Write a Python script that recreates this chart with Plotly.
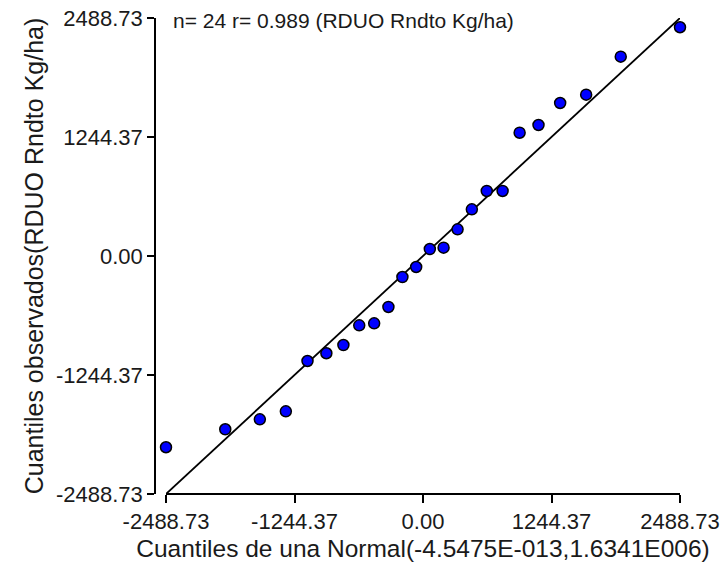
import plotly.graph_objects as go

# Theoretical normal quantiles (x) and observed quantiles (y)
x_theo = [-2488.7, -1914.9, -1580.0, -1328.2, -1118.5, -935.7, -770.8, -617.4,
          -473.0, -334.9, -199.4, -66.1, 66.1, 199.4, 334.9, 473.0,
          617.4, 770.8, 935.7, 1118.5, 1328.2, 1580.0, 1914.9, 2488.7]
y_obs = [-2000, -1812, -1708, -1624, -1098, -1017, -931, -725,
         -704, -533, -220, -115, 73, 87, 279, 488,
         680, 680, 1289, 1370, 1600, 1687, 2084, 2392]
ref_line = [-2488.73, 2488.73]
tick_vals = [-2488.73, -1244.37, 0.00, 1244.37, 2488.73]
tick_text = ["-2488.73", "-1244.37", "0.00", "1244.37", "2488.73"]

W, H = 725, 575
FONT = "Liberation Sans, Arial, sans-serif"

fig = go.Figure()
fig.add_trace(go.Scatter(x=ref_line, y=ref_line, mode="lines",
                         line=dict(color="black", width=1.8),
                         hoverinfo="skip", showlegend=False))
fig.add_trace(go.Scatter(x=x_theo, y=y_obs, mode="markers",
                         marker=dict(color="#0000FF", size=11,
                                     line=dict(color="black", width=1.5)),
                         cliponaxis=False, showlegend=False))

fig.update_layout(
    width=W, height=H,
    margin=dict(l=0, r=0, t=0, b=0, autoexpand=False),
    paper_bgcolor="white", plot_bgcolor="white",
    font=dict(family=FONT, size=20, color="#1a1a1a"),
    xaxis=dict(domain=[166 / W, 680 / W], range=ref_line, anchor="free",
               position=1 - 494 / H, showline=True, linecolor="black",
               linewidth=1.5, ticks="outside", ticklen=8, tickwidth=1.5,
               tickcolor="black", tickvals=tick_vals, ticktext=tick_text,
               showgrid=False, zeroline=False, automargin=False,
               tickfont=dict(size=22),
               title=dict(text="Cuantiles de una Normal(-4.5475E-013,1.6341E006)",
                          font=dict(size=24.5), standoff=6)),
    yaxis=dict(domain=[1 - 494 / H, 1 - 18 / H], range=ref_line, anchor="free",
               position=155 / W, showline=True, linecolor="black",
               linewidth=1.5, ticks="outside", ticklen=7, tickwidth=1.5,
               tickcolor="black", tickvals=tick_vals, ticktext=tick_text,
               showgrid=False, zeroline=False, automargin=False,
               tickfont=dict(size=22),
               title=dict(text="Cuantiles observados(RDUO Rndto Kg/ha)",
                          font=dict(size=25), standoff=4)),
    annotations=[dict(text="n= 24 r= 0.989 (RDUO Rndto Kg/ha)",
                      xref="paper", yref="paper", x=171 / W, y=1 - 20 / H,
                      xanchor="left", yanchor="middle", showarrow=False,
                      font=dict(size=21))],
)

fig.write_html("out.html")
